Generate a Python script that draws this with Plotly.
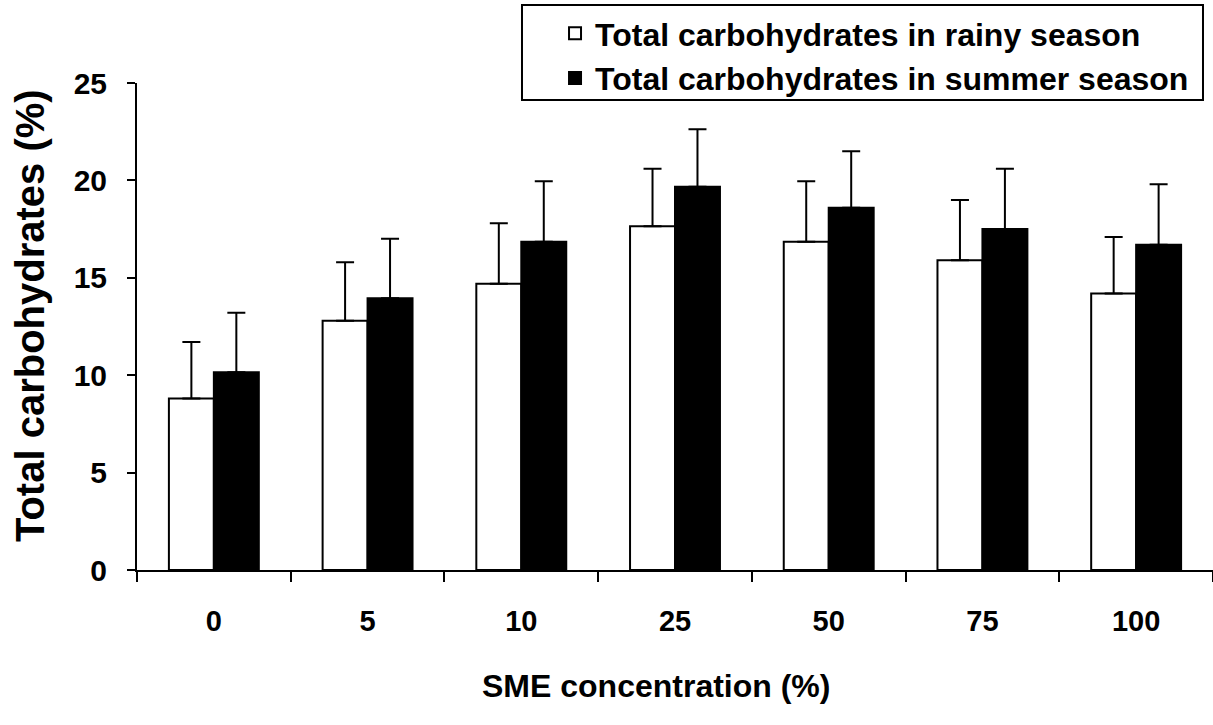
import plotly.graph_objects as go

categories = ["0", "5", "10", "25", "50", "75", "100"]
rainy = [8.8, 12.8, 14.7, 17.65, 16.85, 15.9, 14.2]
rainy_err = [2.9, 3.0, 3.1, 2.95, 3.1, 3.1, 2.9]
summer = [10.15, 13.95, 16.85, 19.67, 18.6, 17.5, 16.7]
summer_err = [3.05, 3.05, 3.1, 2.95, 2.9, 3.1, 3.1]

FONT = "Liberation Sans, Arial, sans-serif"

fig = go.Figure()
fig.add_trace(go.Bar(
    x=categories, y=rainy, name="Total carbohydrates in rainy season",
    marker=dict(color="white", line=dict(color="black", width=2)),
    error_y=dict(type="data", array=rainy_err, symmetric=False, arrayminus=[0]*7,
                 color="black", thickness=2, width=9),
))
fig.add_trace(go.Bar(
    x=categories, y=summer, name="Total carbohydrates in summer season",
    marker=dict(color="black", line=dict(color="black", width=2)),
    error_y=dict(type="data", array=summer_err, symmetric=False, arrayminus=[0]*7,
                 color="black", thickness=2, width=9),
))

fig.update_layout(
    width=1213, height=725,
    margin=dict(l=137, r=0, t=83, b=155),
    paper_bgcolor="white", plot_bgcolor="white",
    barmode="group", bargap=0.415, bargroupgap=0,
    font=dict(family=FONT, color="black", size=24),
    showlegend=True,
    legend=dict(
        x=0.3885, y=1.158, xanchor="left", yanchor="top",
        borderwidth=0, bgcolor="rgba(0,0,0,0)",
        font=dict(family=FONT, size=32, color="black", weight="bold"),
        tracegroupgap=0,
    ),
    shapes=[dict(type="rect", xref="paper", yref="paper",
                 x0=0.3578, x1=0.9907, y0=0.965, y1=1.160,
                 line=dict(color="black", width=2), fillcolor="rgba(0,0,0,0)")],
    annotations=[
        dict(text="SME concentration (%)", xref="paper", yref="paper",
             x=0.482, y=-0.238, xanchor="center", yanchor="middle", showarrow=False,
             font=dict(family=FONT, size=32, color="black", weight="bold")),
        dict(text="Total carbohydrates (%)", xref="paper", yref="paper",
             x=-0.0994, y=0.5216, xanchor="center", yanchor="middle", showarrow=False,
             textangle=-90,
             font=dict(family=FONT, size=40, color="black", weight="bold")),
    ],
)
fig.update_xaxes(
    type="category", showline=True, linecolor="black", linewidth=2,
    ticks="outside", tickson="boundaries", ticklen=10, tickwidth=2, tickcolor="black",
    ticklabelstandoff=24,
    tickfont=dict(family=FONT, size=29, color="black", weight="bold"),
    showgrid=False, zeroline=False,
)
fig.update_yaxes(
    range=[0, 25], tickvals=[0, 5, 10, 15, 20, 25],
    showline=True, linecolor="black", linewidth=2,
    ticks="outside", ticklen=8, tickwidth=2, tickcolor="black",
    ticklabelstandoff=14,
    tickfont=dict(family=FONT, size=30, color="black", weight="bold"),
    showgrid=False, zeroline=False,
)

fig.write_html("out.html")
